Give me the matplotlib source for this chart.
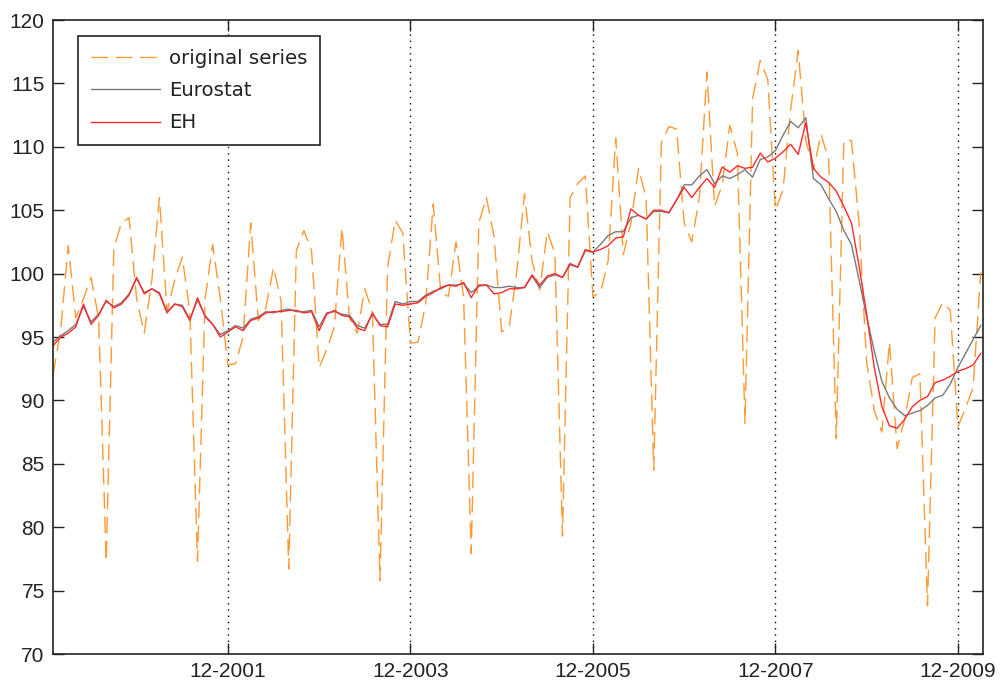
import matplotlib
matplotlib.use("Agg")
import matplotlib.pyplot as plt
import numpy as np

# monthly values, Jan 2000 .. Mar 2010
original = [92.0, 95.5, 102.2, 96.5, 98.0, 99.7, 96.5, 77.3, 102.0, 104.0, 104.4, 98.0,
            95.3, 99.5, 106.0, 97.0, 99.5, 101.3, 97.0, 77.3, 98.0, 102.3, 98.0, 92.8,
            92.9, 95.0, 104.0, 96.3, 97.3, 100.5, 97.8, 76.7, 101.8, 103.4, 101.8, 92.6,
            94.0, 95.8, 103.6, 96.5, 95.3, 98.8, 97.0, 75.8, 100.5, 104.2, 103.2, 94.5,
            94.6, 97.6, 105.5, 98.5, 98.2, 102.5, 98.1, 77.9, 104.0, 106.0, 102.9, 95.4,
            95.8, 100.2, 106.3, 101.0, 98.7, 103.3, 101.6, 79.3, 106.0, 107.1, 107.7, 98.2,
            98.5, 101.0, 110.7, 101.5, 104.0, 108.3, 106.0, 84.5, 110.3, 111.6, 111.4, 104.0,
            102.5, 106.0, 115.9, 105.3, 107.0, 111.7, 109.5, 88.2, 113.8, 116.8, 115.3, 105.0,
            106.6, 112.9, 117.6, 110.5, 108.2, 111.0, 109.0, 87.0, 110.5, 110.5, 104.0, 93.0,
            89.2, 87.5, 94.6, 86.2, 88.5, 91.8, 92.1, 73.8, 96.5, 97.7, 97.1, 87.9,
            89.4, 91.0, 100.1]

eurostat = [94.6, 95.1, 95.5, 96.0, 97.4, 96.2, 96.8, 97.8, 97.4, 97.7, 98.4, 99.6,
            98.5, 98.8, 98.5, 97.0, 97.6, 97.5, 96.4, 97.9, 96.7, 96.0, 95.2, 95.5,
            95.9, 95.7, 96.4, 96.6, 97.0, 96.9, 97.1, 97.2, 97.0, 97.0, 97.1, 95.8,
            96.9, 97.0, 96.8, 96.7, 95.9, 95.7, 96.8, 96.0, 96.0, 97.8, 97.6, 97.8,
            97.8, 98.3, 98.6, 98.8, 99.1, 99.1, 99.2, 98.5, 99.0, 99.1, 98.9, 98.9,
            99.0, 98.9, 98.9, 99.8, 98.9, 99.7, 99.9, 99.7, 100.7, 100.5, 101.8, 101.7,
            102.3, 103.0, 103.3, 103.3, 104.4, 104.6, 104.3, 104.9, 104.9, 104.8, 105.8, 107.0,
            107.0, 107.7, 108.2, 107.1, 107.7, 107.5, 107.8, 108.2, 107.6, 109.0, 109.2, 109.7,
            110.9, 112.0, 111.5, 112.3, 107.5, 107.0, 105.9, 104.9, 103.4, 102.3, 99.5, 96.6,
            93.9, 91.5, 90.2, 89.3, 88.8, 89.0, 89.2, 89.6, 90.2, 90.4, 91.3, 92.6,
            93.7, 94.8, 95.9]

eh = [94.3, 95.0, 95.3, 95.8, 97.6, 96.0, 96.7, 97.9, 97.3, 97.6, 98.3, 99.7,
      98.4, 98.8, 98.4, 96.9, 97.6, 97.4, 96.3, 98.1, 96.6, 96.0, 95.0, 95.4,
      95.8, 95.5, 96.3, 96.5, 96.9, 97.0, 97.0, 97.1, 97.1, 96.9, 97.0, 95.5,
      96.8, 97.1, 96.7, 96.6, 95.7, 95.5, 96.9, 95.9, 95.8, 97.6, 97.5, 97.6,
      97.7, 98.2, 98.5, 98.9, 99.1, 99.0, 99.3, 98.1, 99.1, 99.1, 98.4, 98.5,
      98.8, 98.8, 98.9, 99.9, 99.1, 99.8, 100.0, 99.7, 100.8, 100.5, 101.9, 101.7,
      101.9, 102.2, 102.8, 102.9, 105.1, 104.6, 104.3, 105.0, 105.0, 104.8, 105.8, 106.8,
      106.0, 106.8, 107.5, 106.8, 108.4, 108.0, 108.5, 108.3, 108.4, 109.5, 108.8, 109.1,
      109.6, 110.2, 109.4, 111.9, 108.3, 107.6, 107.2, 106.5, 105.3, 104.0, 100.6, 96.8,
      92.6, 89.5, 88.0, 87.8, 88.5, 89.5, 90.0, 90.3, 91.4, 91.6, 91.9, 92.3,
      92.5, 92.8, 93.7]

tick_months = [23, 47, 71, 95, 119]
tick_labels = ["12-2001", "12-2003", "12-2005", "12-2007", "12-2009"]

plt.rcParams["font.family"] = ["Liberation Sans", "DejaVu Sans"]

fig = plt.figure(figsize=(10.01, 6.86), dpi=100)
ax = fig.add_axes([53 / 1001, 32 / 686, 930 / 1001, 634 / 686])

months = np.arange(len(original))
ax.plot(months, original, color="#ff9933", lw=1.0, dashes=(12, 5.5), label="original series")
ax.plot(months, eurostat, color="#7a7a7a", lw=1.0, label="Eurostat")
ax.plot(months, eh, color="#ff2a2a", lw=1.0, label="EH")

ax.set_xlim(0, 122.3)
ax.set_ylim(70, 120)
ax.set_yticks(np.arange(70, 121, 5))
ax.set_xticks(tick_months)
ax.set_xticklabels(tick_labels)
ax.xaxis.grid(True, linestyle=(0, (1, 3.5)), color="black", lw=1.0)

ax.tick_params(direction="in", length=8, width=1.0, top=True, right=True,
               labelsize=15, colors="#222222", pad=6)
for s in ax.spines.values():
    s.set_linewidth(1.2)
    s.set_color("#222222")

leg = ax.legend(loc="upper left", bbox_to_anchor=(0.027, 0.975), borderaxespad=0,
                prop={"family": "DejaVu Sans", "size": 14.2}, fancybox=False,
                framealpha=1, edgecolor="#222222", handlelength=3.5,
                handletextpad=0.45, labelspacing=0.68, borderpad=0.65)
leg.get_frame().set_linewidth(1.2)
for t in leg.get_texts():
    t.set_color("#222222")

fig.savefig("out.png", dpi=100)
